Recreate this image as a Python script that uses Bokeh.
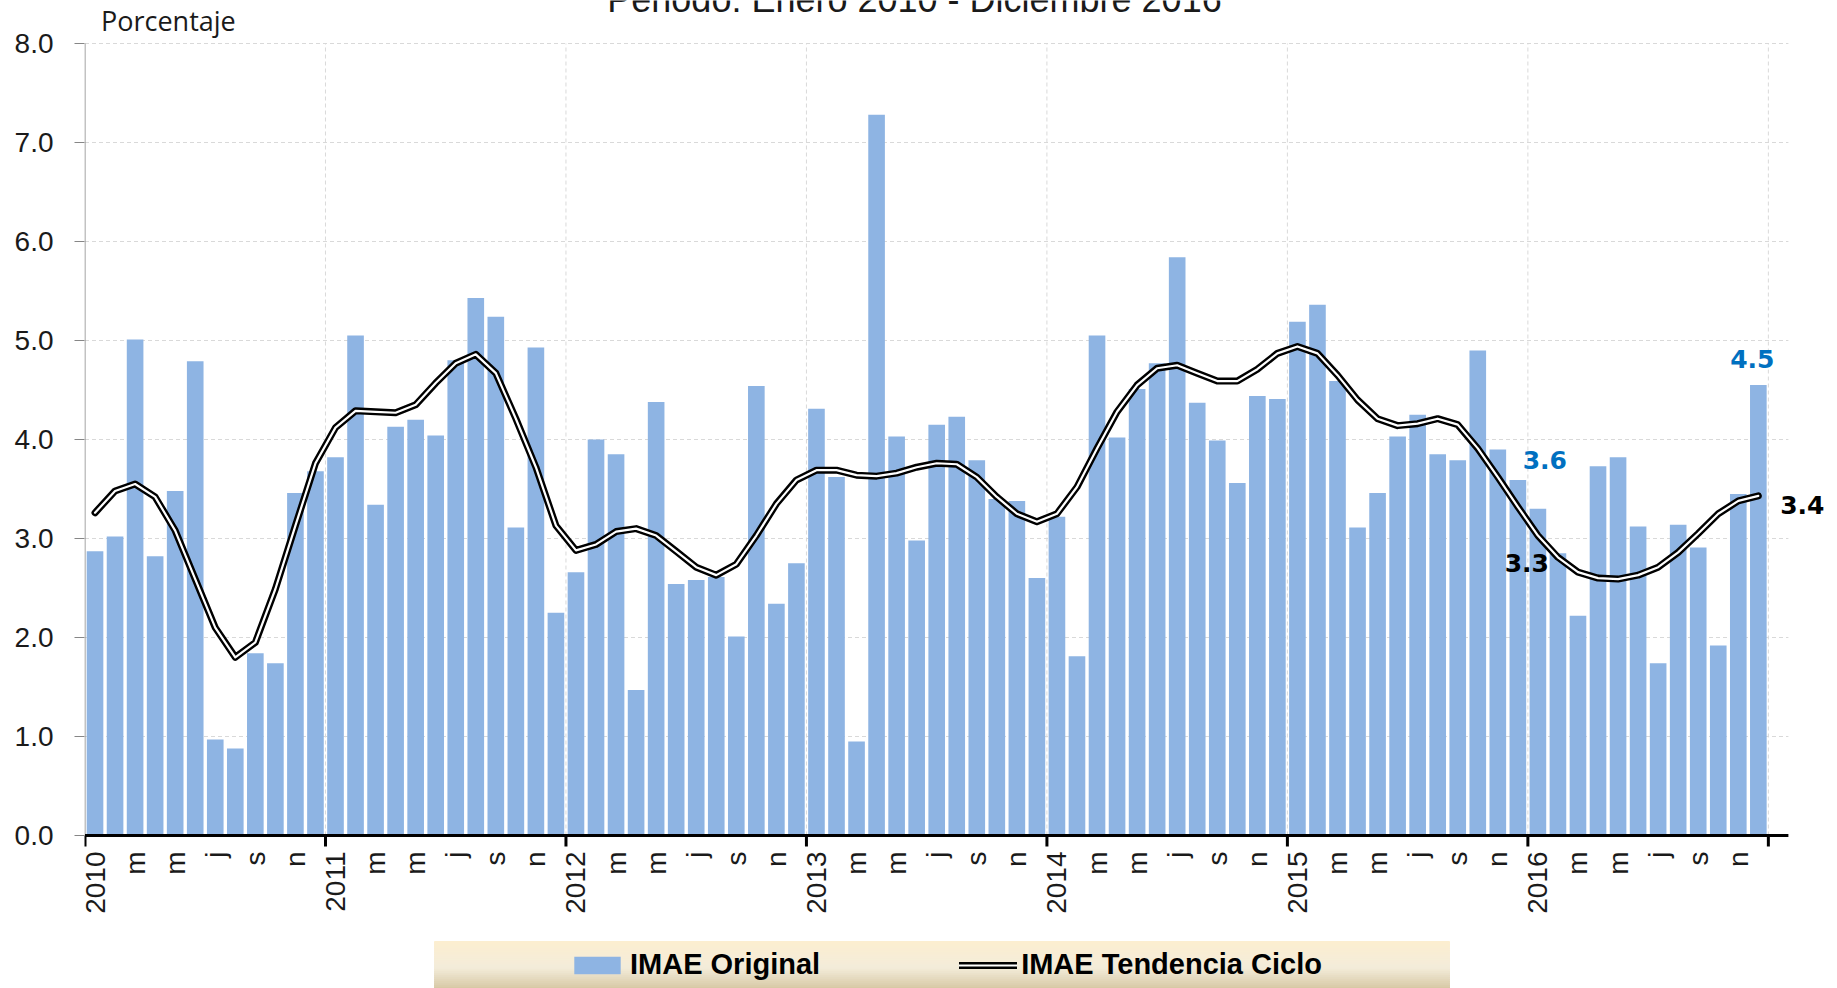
import math
from bokeh.plotting import figure
from bokeh.models import Range1d, FixedTicker, NumeralTickFormatter, Legend, LegendItem, ColumnDataSource
from bokeh.core.properties import value
from bokeh.embed import file_html
from bokeh.resources import INLINE

# ---------------- data ----------------
years = ["2010", "2011", "2012", "2013", "2014", "2015", "2016"]
month_letters = ["", "m", "m", "j", "s", "n"]   # Jan(year), Mar, May, Jul, Sep, Nov

imae_original = [
    2.87, 3.02, 5.01, 2.82, 3.48, 4.79, 0.97, 0.88, 1.84, 1.74, 3.46, 3.68,
    3.82, 5.05, 3.34, 4.13, 4.20, 4.04, 4.80, 5.43, 5.24, 3.11, 4.93, 2.25,
    2.66, 4.00, 3.85, 1.47, 4.38, 2.54, 2.58, 2.61, 2.01, 4.54, 2.34, 2.75,
    4.31, 3.62, 0.95, 7.28, 4.03, 2.98, 4.15, 4.23, 3.79, 3.40, 3.38, 2.60,
    3.22, 1.81, 5.05, 4.02, 4.51, 4.77, 5.84, 4.37, 3.99, 3.56, 4.44, 4.41,
    5.19, 5.36, 4.59, 3.11, 3.46, 4.03, 4.25, 3.85, 3.79, 4.90, 3.90, 3.59,
    3.30, 2.85, 2.22, 3.73, 3.82, 3.12, 1.74, 3.14, 2.91, 1.92, 3.45, 4.55,
]
imae_tendencia = [
    3.26, 3.48, 3.55, 3.42, 3.08, 2.59, 2.10, 1.80, 1.95, 2.49, 3.13, 3.76,
    4.12, 4.29, 4.28, 4.27, 4.35, 4.57, 4.77, 4.86, 4.67, 4.21, 3.72, 3.13,
    2.88, 2.94, 3.07, 3.10, 3.03, 2.87, 2.71, 2.63, 2.74, 3.03, 3.35, 3.59,
    3.69, 3.69, 3.64, 3.63, 3.66, 3.72, 3.76, 3.75, 3.62, 3.42, 3.25, 3.17,
    3.25, 3.52, 3.91, 4.28, 4.55, 4.72, 4.75, 4.67, 4.59, 4.59, 4.71, 4.87,
    4.94, 4.87, 4.65, 4.40, 4.21, 4.14, 4.16, 4.21, 4.15, 3.91, 3.62, 3.32,
    3.03, 2.81, 2.66, 2.60, 2.59, 2.63, 2.71, 2.86, 3.05, 3.25, 3.38, 3.43,
]
y_ticks = [0, 1, 2, 3, 4, 5, 6, 7, 8]
title_text = "Periodo: Enero 2010 - Diciembre 2016"
y_title = "Porcentaje"
series_names = ["IMAE Original", "IMAE Tendencia Ciclo"]
callouts = ["3.6", "3.3", "4.5", "3.4"]   # Dec-2015 bar, Dec-2015 trend, Dec-2016 bar, Dec-2016 trend

# ---------------- layout constants (pixels) ----------------
W, H = 1829, 988
LEFT = 84              # left panel (y axis)
PXX = 20.04            # pixels per month
PXY = 99.0             # pixels per 1.0 on y
Y0_FROM_TOP = 835      # y = 0 line, px from top of canvas
X0_IN = 0.5            # x = 0 line, px inside the frame

n = len(imae_original)
XMAX = n + 1           # axis / grid end
x_start = -X0_IN / PXX
x_end = x_start + (W - LEFT) / PXX
y_end = Y0_FROM_TOP / PXY
y_start = -(H - Y0_FROM_TOP) / PXY

def dx(px):  # pixel distance -> data x distance
    return px / PXX

def dy(px):  # pixel distance (upwards) -> data y distance
    return px / PXY

BAR = "#8EB4E3"
FONT = "Liberation Sans"
GRID = "#D9D9D9"
BLUE = "#0070C0"
TXT = "#1A1A1A"

xs = [i + 0.5 for i in range(n)]
src = ColumnDataSource(dict(x=xs, orig=imae_original, trend=imae_tendencia))

p = figure(width=W, height=H, output_backend="svg", toolbar_location=None,
           x_range=Range1d(x_start, x_end), y_range=Range1d(y_start, y_end),
           x_axis_location=None,
           min_border_left=LEFT, min_border_right=0, min_border_top=0, min_border_bottom=0)
p.outline_line_color = None
p.xgrid.visible = False
p.ygrid.visible = False

# grid lines (dashed), limited to the plotting area 0..8 / 0..XMAX
year_bounds = [12 * k for k in range(len(years) + 1)]
p.segment(x0=0, x1=XMAX, y0=y_ticks[1:], y1=y_ticks[1:], line_color=GRID,
          line_dash="4 3", line_width=1)
p.segment(x0=year_bounds[1:], x1=year_bounds[1:], y0=0, y1=y_ticks[-1], line_color=GRID,
          line_dash="4 3", line_width=1)

# y axis line
p.segment(x0=[0], x1=[0], y0=[0], y1=[y_ticks[-1]], line_color="#868686", line_width=1)

# bars
r_bar = p.vbar(x="x", top="orig", bottom=0, width=0.83, source=src,
               fill_color=BAR, line_color=None)

# x axis: thick black line + year-boundary ticks
p.segment(x0=[0], x1=[XMAX], y0=[0], y1=[0], line_color="black", line_width=3)
p.segment(x0=year_bounds, x1=year_bounds, y0=0, y1=-dy(11), line_color="black", line_width=3)

# trend (double line)
r_blk = p.line(x="x", y="trend", source=src, line_color="black", line_width=7,
               line_cap="round", line_join="round")
r_wht = p.line(x="x", y="trend", source=src, line_color="white", line_width=2.2,
               line_cap="round", line_join="round")

# x labels (year at January, month initials every two months), rotated
lab_x, lab_t = [], []
for yi, yr in enumerate(years):
    for k, lt in enumerate(month_letters):
        lab_x.append(12 * yi + 2 * k + 0.5)
        lab_t.append(yr if k == 0 else lt)
p.text(x=lab_x, y=-dy(16), text=lab_t, angle=math.pi / 2, text_align="right",
       text_baseline="middle", text_font=value(FONT), text_font_size="28px", text_color=TXT)

# y axis (ticks + labels only)
ya = p.yaxis[0]
ya.ticker = FixedTicker(ticks=y_ticks)
ya.formatter = NumeralTickFormatter(format="0.0")
ya.axis_line_color = None
ya.major_tick_line_color = "#868686"
ya.major_tick_out = 10
ya.major_tick_in = 0
ya.minor_tick_line_color = None
ya.major_label_standoff = 21
ya.major_label_text_font = FONT
ya.major_label_text_font_size = "28px"
ya.major_label_text_color = TXT

# title (cut at the top edge, as in the reference) and y title
p.text(x=[dx(914 - 84.5)], y=[y_ticks[-1] + dy(44)], text=[title_text], text_align="center",
       text_baseline="alphabetic", text_font=value(FONT), text_font_size="36px", text_color=TXT)
p.text(x=[dx(16)], y=[y_ticks[-1] + dy(23)], text=[y_title], text_align="left",
       text_baseline="alphabetic", text_font=value("Open Sans"), text_font_size="27px",
       text_color=TXT)

# callouts
last = n - 1
prev = n - 13
specs = [
    (callouts[0], xs[prev], imae_original[prev], 27, 20, BLUE),
    (callouts[1], xs[prev], imae_tendencia[prev], 9, -56, "black"),
    (callouts[2], xs[last], imae_original[last], -6, 26, BLUE),
    (callouts[3], xs[last], imae_tendencia[last], 44, -9, "black"),
]
for txt, x0, y0, ox, oy, col in specs:
    p.text(x=[x0 + dx(ox)], y=[y0 + dy(oy)], text=[txt], text_align="center",
           text_baseline="middle", text_font=value("DejaVu Sans"), text_font_style="bold",
           text_font_size="25px", text_color=col)

# ---------------- legend strip with gradient ----------------
L_LEFT, L_RIGHT = 434 - LEFT, 1449 - LEFT       # px from frame left
L_TOP = 941                                      # px from canvas top
lx0 = x_start + dx(L_LEFT)
lx1 = x_start + dx(L_RIGHT)
ly_top = y_end - dy(L_TOP)
stops = [(0.0, (214, 199, 163)), (0.45, (243, 236, 218)), (1.0, (252, 238, 208))]

def col_at(t):
    for (t0, c0), (t1, c1) in zip(stops[:-1], stops[1:]):
        if t0 <= t <= t1:
            f = (t - t0) / (t1 - t0)
            return "#%02x%02x%02x" % tuple(int(round(a + (b - a) * f)) for a, b in zip(c0, c1))
    return "#%02x%02x%02x" % stops[-1][1]

nb = 24
hgt = ly_top - y_start
bots = [y_start + hgt * i / nb for i in range(nb)]
tops = [y_start + hgt * (i + 1) / nb for i in range(nb)]
cols = [col_at((i + 0.5) / nb) for i in range(nb)]
p.quad(left=lx0, right=lx1, bottom=bots, top=tops, fill_color=cols, line_color=cols)

legend = Legend(items=[LegendItem(label=series_names[0], renderers=[r_bar]),
                       LegendItem(label=series_names[1], renderers=[r_blk, r_wht])],
                location=(568 - LEFT, 7), orientation="horizontal",
                background_fill_alpha=0, border_line_alpha=0,
                padding=0, margin=0, spacing=139,
                glyph_width=58, glyph_height=22, label_standoff=4,
                label_text_font=FONT, label_text_font_style="bold",
                label_text_font_size="29px", label_text_color="black")
p.add_layout(legend, "center")

open("out.html", "w").write(file_html(p, INLINE))
